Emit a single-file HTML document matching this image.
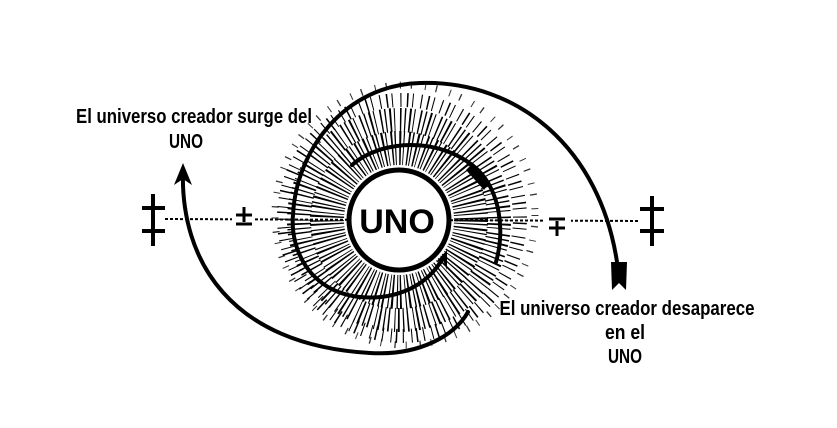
<!DOCTYPE html>
<html><head><meta charset="utf-8"><style>
body{margin:0;background:#fff;}
.t{font-family:"Liberation Sans",sans-serif;font-weight:bold;}
</style></head><body>
<svg width="837" height="423" viewBox="0 0 837 423" xmlns="http://www.w3.org/2000/svg">
<rect width="837" height="423" fill="#fff"/>
<line x1="165" y1="219" x2="640" y2="221" stroke="#000" stroke-width="2" stroke-dasharray="3 2"/>
<rect x="232" y="210" width="22" height="16" fill="#fff"/>
<rect x="545" y="212" width="26" height="18" fill="#fff"/>
<g fill="none" stroke="#000">
 <circle cx="399" cy="220" r="72" stroke-width="34" stroke-dasharray="1.6 1.8 1.2 3 1.8 2 1 3.4"/>
 <circle cx="399" cy="220" r="100" stroke-width="24" stroke-dasharray="1.3 3.2 1.8 2.5 1 4.8 1.5 3" stroke-dashoffset="1"/>
 <circle cx="402" cy="218" r="118" stroke-width="14" stroke-dasharray="1.1 5.5 1.5 4 1 7.5" stroke-dashoffset="2"/>
 <circle cx="405" cy="215" r="130" stroke-width="7" stroke-dasharray="1 10 1.3 13" opacity="0.8"/>
</g>
<circle cx="399" cy="220" r="50" fill="#fff" stroke="#000" stroke-width="5"/>
<g fill="none" stroke="#000" stroke-width="4" stroke-linecap="round">
 <path d="M352,165 C380,140 440,135 478,170 C500,192 505,230 496,262"/>
 <path d="M443,258 C425,290 390,300 360,297 C310,292 290,250 293,215 C296,150 345,85 420,83 C520,80 600,150 617,262"/>
 <path d="M183,170 C180,260 230,345 370,353 C420,356 455,335 468,312"/>
</g>
<path d="M183,163 L174,185 L183,179 L192,185 Z" fill="#000"/>
<path d="M473,163 L490,182 L484,190 L466,170 Z" fill="#000"/>
<path d="M447,250 L436,262 L443,260 L447,270 Z" fill="#000"/>
<path d="M611,262 L627,262 L626,290 L619,283 L612,290 Z" fill="#000"/>
<g stroke="#000" stroke-width="4">
 <line x1="153" y1="194" x2="153" y2="246"/>
 <line x1="142" y1="208" x2="165" y2="208"/>
 <line x1="142" y1="231" x2="165" y2="231"/>
 <line x1="652" y1="196" x2="652" y2="246"/>
 <line x1="640" y1="209" x2="664" y2="209"/>
 <line x1="640" y1="231" x2="664" y2="231"/>
 <line x1="236" y1="215" x2="252" y2="215" stroke-width="3"/>
 <line x1="244" y1="207" x2="244" y2="222" stroke-width="3"/>
 <line x1="236" y1="224" x2="252" y2="224" stroke-width="3"/>
 <line x1="549" y1="219" x2="565" y2="219" stroke-width="3"/>
 <line x1="549" y1="228" x2="565" y2="228" stroke-width="3"/>
 <line x1="557" y1="221" x2="557" y2="236" stroke-width="3"/>
</g>
<text x="397" y="233" class="t" font-size="34" text-anchor="middle">UNO</text>
<g class="t" font-size="20" text-anchor="middle">
 <text x="194" y="123" textLength="236" lengthAdjust="spacingAndGlyphs">El universo creador surge del</text>
 <text x="186" y="148" textLength="34" lengthAdjust="spacingAndGlyphs">UNO</text>
 <text x="627" y="315" textLength="255" lengthAdjust="spacingAndGlyphs">El universo creador desaparece</text>
 <text x="625" y="339" textLength="40" lengthAdjust="spacingAndGlyphs">en el</text>
 <text x="625" y="363" textLength="34" lengthAdjust="spacingAndGlyphs">UNO</text>
</g>
</svg>
</body></html>
